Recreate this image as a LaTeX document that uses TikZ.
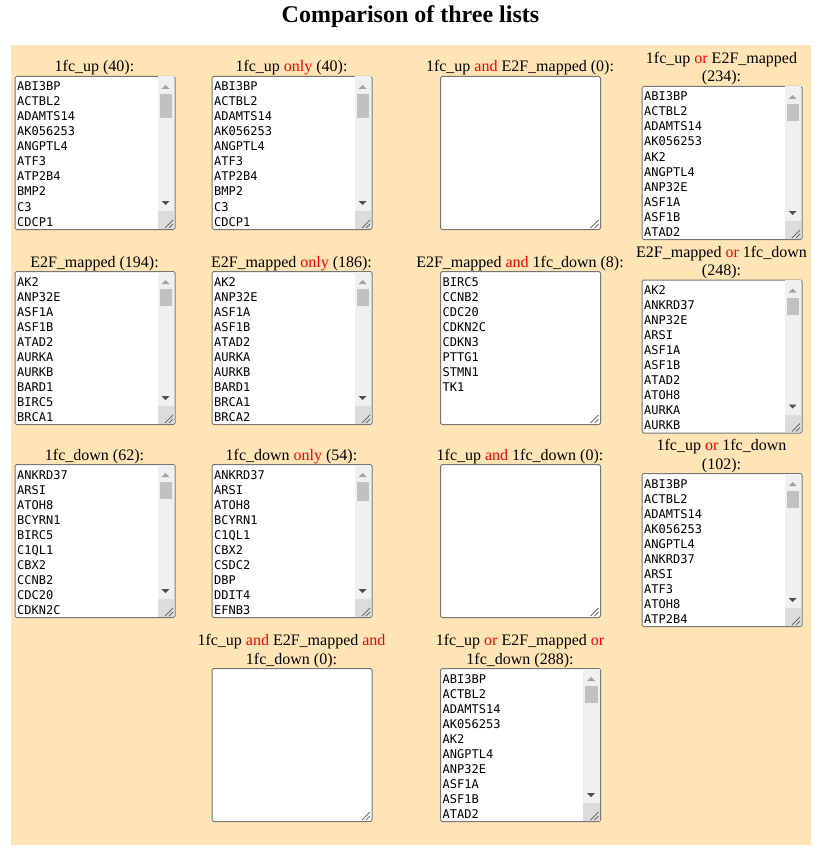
\documentclass[tikz,border=0pt]{standalone}
\usepackage{fontspec}
\setmainfont{Liberation Serif}
\newfontfamily\monofont{DejaVu Sans Mono}
\usetikzlibrary{calc}
\definecolor{panelc}{RGB}{255,228,181}
\definecolor{boxc}{RGB}{118,118,118}
\definecolor{trackc}{RGB}{240,240,240}
\definecolor{cornerc}{RGB}{220,220,220}
\definecolor{thumbc}{RGB}{193,193,193}
\definecolor{upc}{RGB}{163,163,163}
\definecolor{downc}{RGB}{80,80,80}
\definecolor{gripc}{RGB}{110,110,110}
\definecolor{kw}{RGB}{255,0,0}
\newcommand{\kw}[1]{\textcolor{kw}{#1}}
\tikzset{
  lb/.style={draw=boxc, fill=white, line width=1pt, rounded corners=1.5pt,
    minimum width=160pt, minimum height=153pt, inner sep=0pt, anchor=north west},
  item/.style={font=\monofont\fontsize{12}{15}\selectfont, inner sep=0pt, anchor=base west},
  lab/.style={font=\fontsize{16}{18.4}\selectfont, inner sep=0pt, anchor=base},
  griplines/.style={draw=gripc, line width=0.8pt},
}
% scrollbar: L, T, thumb length
\newcommand{\sbar}[3]{%
  \pgfmathsetmacro{\bxR}{#1+160}\pgfmathsetmacro{\bxB}{#2+153}%
  \fill[trackc] (\bxR-17,#2+0.5) rectangle (\bxR-0.5,\bxB-0.5);
  \fill[cornerc] (\bxR-17,\bxB-18) rectangle (\bxR-0.5,\bxB-0.5);
  \fill[upc] (\bxR-13,#2+13) -- (\bxR-5,#2+13) -- (\bxR-9,#2+9) -- cycle;
  \fill[downc] (\bxR-13,\bxB-28) -- (\bxR-5,\bxB-28) -- (\bxR-9,\bxB-24) -- cycle;
  \fill[thumbc] (\bxR-15,#2+18) rectangle (\bxR-2.5,#2+18+#3);
}
% resize grip: L, T
\newcommand{\grip}[2]{%
  \pgfmathsetmacro{\bxR}{#1+160}\pgfmathsetmacro{\bxB}{#2+153}%
  \draw[griplines] (\bxR-1.5,\bxB-9) -- (\bxR-9.5,\bxB-1);
  \draw[griplines] (\bxR-1.5,\bxB-5) -- (\bxR-5.5,\bxB-1);
}
% items: name, L, T, list
\newcommand{\items}[4]{%
  \foreach \t [count=\i] in {#4} {\node[item] (#1-\i) at (#2+2.5,#3+15*\i) {\t};}
}
\begin{document}
\begin{tikzpicture}[x=1pt,y=-1pt]
\useasboundingbox (0,0) rectangle (831,853);
\fill[panelc] (11,45.5) rectangle (810.5,845);
\node[font=\bfseries\fontsize{24}{28}\selectfont, inner sep=0pt, anchor=base] (title) at (410.5,22.3) {Comparison of three lists};

% ---- Row 1 ----
\node[lab] (A-l) at (94.5,72) {1fc\_up (40):};
\node[lb] (A) at (14.5,76) {};
\sbar{14.5}{76}{24.5}
\items{A}{14.5}{76}{ABI3BP,ACTBL2,ADAMTS14,AK056253,ANGPTL4,ATF3,ATP2B4,BMP2,C3,CDCP1}
\grip{14.5}{76}

\node[lab] (B-l) at (291.5,72) {1fc\_up \kw{only} (40):};
\node[lb] (B) at (211.5,76) {};
\sbar{211.5}{76}{24.5}
\items{B}{211.5}{76}{ABI3BP,ACTBL2,ADAMTS14,AK056253,ANGPTL4,ATF3,ATP2B4,BMP2,C3,CDCP1}
\grip{211.5}{76}

\node[lab] (C-l) at (520,72) {1fc\_up \kw{and} E2F\_mapped (0):};
\node[lb] (C) at (440,76) {};
\grip{440}{76}

\node[lab] (D-l1) at (721.5,63.6) {1fc\_up \kw{or} E2F\_mapped};
\node[lab] (D-l2) at (721.5,82) {(234):};
\node[lb] (D) at (641.5,86) {};
\sbar{641.5}{86}{17}
\items{D}{641.5}{86}{ABI3BP,ACTBL2,ADAMTS14,AK056253,AK2,ANGPTL4,ANP32E,ASF1A,ASF1B,ATAD2}
\grip{641.5}{86}

% ---- Row 2 ----
\node[lab] (E-l) at (94.5,267) {E2F\_mapped (194):};
\node[lb] (E) at (14.5,271) {};
\sbar{14.5}{271}{17}
\items{E}{14.5}{271}{AK2,ANP32E,ASF1A,ASF1B,ATAD2,AURKA,AURKB,BARD1,BIRC5,BRCA1}
\grip{14.5}{271}

\node[lab] (F-l) at (291.5,267) {E2F\_mapped \kw{only} (186):};
\node[lb] (F) at (211.5,271) {};
\sbar{211.5}{271}{17}
\items{F}{211.5}{271}{AK2,ANP32E,ASF1A,ASF1B,ATAD2,AURKA,AURKB,BARD1,BRCA1,BRCA2}
\grip{211.5}{271}

\node[lab] (G-l) at (520,267) {E2F\_mapped \kw{and} 1fc\_down (8):};
\node[lb] (G) at (440,271) {};
\items{G}{440}{271}{BIRC5,CCNB2,CDC20,CDKN2C,CDKN3,PTTG1,STMN1,TK1}
\grip{440}{271}

\node[lab] (H-l1) at (721.5,257.1) {E2F\_mapped \kw{or} 1fc\_down};
\node[lab] (H-l2) at (721.5,275.5) {(248):};
\node[lb] (H) at (641.5,279.5) {};
\sbar{641.5}{279.5}{17}
\items{H}{641.5}{279.5}{AK2,ANKRD37,ANP32E,ARSI,ASF1A,ASF1B,ATAD2,ATOH8,AURKA,AURKB}
\grip{641.5}{279.5}

% ---- Row 3 ----
\node[lab] (I-l) at (94.5,460) {1fc\_down (62):};
\node[lb] (I) at (14.5,464) {};
\sbar{14.5}{464}{17}
\items{I}{14.5}{464}{ANKRD37,ARSI,ATOH8,BCYRN1,BIRC5,C1QL1,CBX2,CCNB2,CDC20,CDKN2C}
\grip{14.5}{464}

\node[lab] (J-l) at (291.5,460) {1fc\_down \kw{only} (54):};
\node[lb] (J) at (211.5,464) {};
\sbar{211.5}{464}{19}
\items{J}{211.5}{464}{ANKRD37,ARSI,ATOH8,BCYRN1,C1QL1,CBX2,CSDC2,DBP,DDIT4,EFNB3}
\grip{211.5}{464}

\node[lab] (K-l) at (520,460) {1fc\_up \kw{and} 1fc\_down (0):};
\node[lb] (K) at (440,464) {};
\grip{440}{464}

\node[lab] (L-l1) at (721.5,450.6) {1fc\_up \kw{or} 1fc\_down};
\node[lab] (L-l2) at (721.5,469) {(102):};
\node[lb] (L) at (641.5,473) {};
\sbar{641.5}{473}{17}
\items{L}{641.5}{473}{ABI3BP,ACTBL2,ADAMTS14,AK056253,ANGPTL4,ANKRD37,ARSI,ATF3,ATOH8,ATP2B4}
\grip{641.5}{473}

% ---- Row 4 ----
\node[lab] (M-l1) at (291.5,645.6) {1fc\_up \kw{and} E2F\_mapped \kw{and}};
\node[lab] (M-l2) at (291.5,664) {1fc\_down (0):};
\node[lb] (M) at (211.5,668) {};
\grip{211.5}{668}

\node[lab] (N-l1) at (520,645.6) {1fc\_up \kw{or} E2F\_mapped \kw{or}};
\node[lab] (N-l2) at (520,664) {1fc\_down (288):};
\node[lb] (N) at (440,668) {};
\sbar{440}{668}{17}
\items{N}{440}{668}{ABI3BP,ACTBL2,ADAMTS14,AK056253,AK2,ANGPTL4,ANP32E,ASF1A,ASF1B,ATAD2}
\grip{440}{668}
\end{tikzpicture}
\end{document}
